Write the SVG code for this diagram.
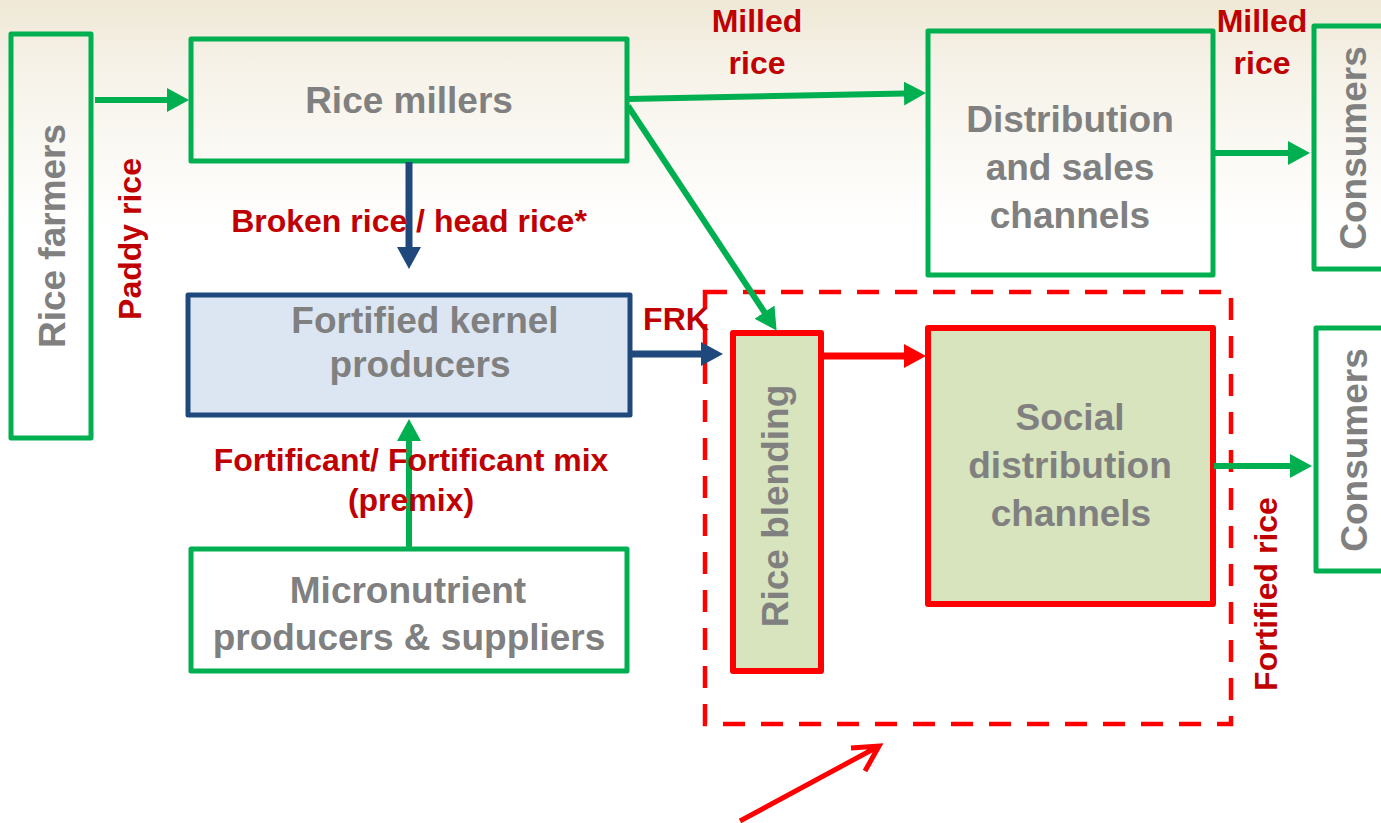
<svg xmlns="http://www.w3.org/2000/svg" width="1381" height="823" viewBox="0 0 1381 823">
<defs>
<linearGradient id="bg" x1="0" y1="0" x2="0" y2="1">
<stop offset="0" stop-color="#EFE8D6"/>
<stop offset="0.08" stop-color="#F6F2E8"/>
<stop offset="0.28" stop-color="#FFFFFF"/>
<stop offset="1" stop-color="#FFFFFF"/>
</linearGradient>
<marker id="ag" viewBox="0 0 22 24" refX="1" refY="12" markerWidth="22" markerHeight="24" markerUnits="userSpaceOnUse" orient="auto"><path d="M0,0 L22,12 L0,24 z" fill="#00B050"/></marker>
<marker id="ab" viewBox="0 0 22 24" refX="1" refY="12" markerWidth="22" markerHeight="24" markerUnits="userSpaceOnUse" orient="auto"><path d="M0,0 L22,12 L0,24 z" fill="#1F497D"/></marker>
<marker id="ar" viewBox="0 0 22 24" refX="1" refY="12" markerWidth="22" markerHeight="24" markerUnits="userSpaceOnUse" orient="auto"><path d="M0,0 L22,12 L0,24 z" fill="#FF0000"/></marker>
</defs>
<style>
.gbox{fill:none;stroke:#00B050;stroke-width:5;stroke-linejoin:round}
.bbox{fill:#DCE6F2;stroke:#1F497D;stroke-width:5;stroke-linejoin:round}
.rbox{fill:#D7E4BD;stroke:#FF0000;stroke-width:6;stroke-linejoin:round}
.nt{font-family:"Liberation Sans",Arial,sans-serif;font-weight:bold;font-size:37px;fill:#808080;text-anchor:middle}
.lt{font-family:"Liberation Sans",Arial,sans-serif;font-weight:bold;font-size:32px;fill:#C00000;text-anchor:middle}
.g{fill:none;stroke:#00B050;stroke-width:6;marker-end:url(#ag)}
.b{fill:none;stroke:#1F497D;stroke-width:7;marker-end:url(#ab)}
.r{fill:none;stroke:#FF0000;stroke-width:7;marker-end:url(#ar)}
</style>
<rect x="0" y="0" width="1381" height="823" fill="url(#bg)"/>

<g id="rice-farmers">
<rect class="gbox" x="11" y="34" width="80" height="404"/>
<text class="nt" transform="translate(65,236) rotate(-90)">Rice farmers</text>
</g>
<g id="rice-millers">
<rect class="gbox" x="191" y="39" width="436" height="122"/>
<text class="nt" x="409" y="113">Rice millers</text>
</g>
<g id="distribution">
<rect class="gbox" x="928" y="31" width="285" height="244"/>
<text class="nt" x="1070" y="132">Distribution</text>
<text class="nt" x="1070" y="180">and sales</text>
<text class="nt" x="1070" y="228">channels</text>
</g>
<g id="consumers-top">
<rect class="gbox" x="1314" y="26" width="80" height="243"/>
<text class="nt" transform="translate(1366,148) rotate(-90)">Consumers</text>
</g>
<g id="fortified-kernel">
<rect class="bbox" x="188" y="295" width="442" height="120"/>
<text class="nt" x="425" y="333">Fortified kernel</text>
<text class="nt" x="420" y="377">producers</text>
</g>
<g id="micronutrient">
<rect class="gbox" x="191" y="549" width="436" height="122"/>
<text class="nt" x="408" y="603">Micronutrient</text>
<text class="nt" x="409" y="650">producers &amp; suppliers</text>
</g>
<g id="blending-zone">
<rect x="705" y="292" width="526" height="432" fill="none" stroke="#FF0000" stroke-width="4.5" stroke-dasharray="22 16"/>
</g>
<g id="rice-blending">
<rect class="rbox" x="733" y="333" width="88" height="338"/>
<text class="nt" transform="translate(788,506) rotate(-90)">Rice blending</text>
</g>
<g id="social-distribution">
<rect class="rbox" x="928" y="328" width="285" height="276"/>
<text class="nt" x="1070" y="430">Social</text>
<text class="nt" x="1070" y="478">distribution</text>
<text class="nt" x="1071" y="526">channels</text>
</g>
<g id="consumers-bottom">
<rect class="gbox" x="1316" y="328" width="80" height="243"/>
<text class="nt" transform="translate(1367,450) rotate(-90)">Consumers</text>
</g>

<g id="connectors">
<path class="g" d="M95,100 L168,100"/>
<path class="g" d="M628,99 L905,93.5"/>
<path class="g" d="M628,106 L765,313"/>
<path class="g" d="M1214,153 L1289,153"/>
<path class="g" d="M409,548 L409,440"/>
<path class="g" d="M1214,466 L1291,466"/>
<path class="b" d="M409,162 L409,248"/>
<path class="b" d="M631,354 L702,354"/>
<path class="r" d="M822,356 L905,356"/>
<path d="M740,821 L879,746 M851,748 L879,746 L865,771" fill="none" stroke="#FF0000" stroke-width="5" stroke-linejoin="miter"/>
</g>

<g id="labels">
<text class="lt" x="757" y="32">Milled</text>
<text class="lt" x="757" y="74">rice</text>
<text class="lt" x="1262" y="32">Milled</text>
<text class="lt" x="1262" y="74">rice</text>
<text class="lt" x="409" y="232">Broken rice / head rice*</text>
<text class="lt" x="411" y="471">Fortificant/ Fortificant mix</text>
<text class="lt" x="411" y="511">(premix)</text>
<text class="lt" x="676" y="330">FRK</text>
<text class="lt" transform="translate(141,239) rotate(-90)">Paddy rice</text>
<text class="lt" transform="translate(1277,594) rotate(-90)">Fortified rice</text>
</g>
</svg>
